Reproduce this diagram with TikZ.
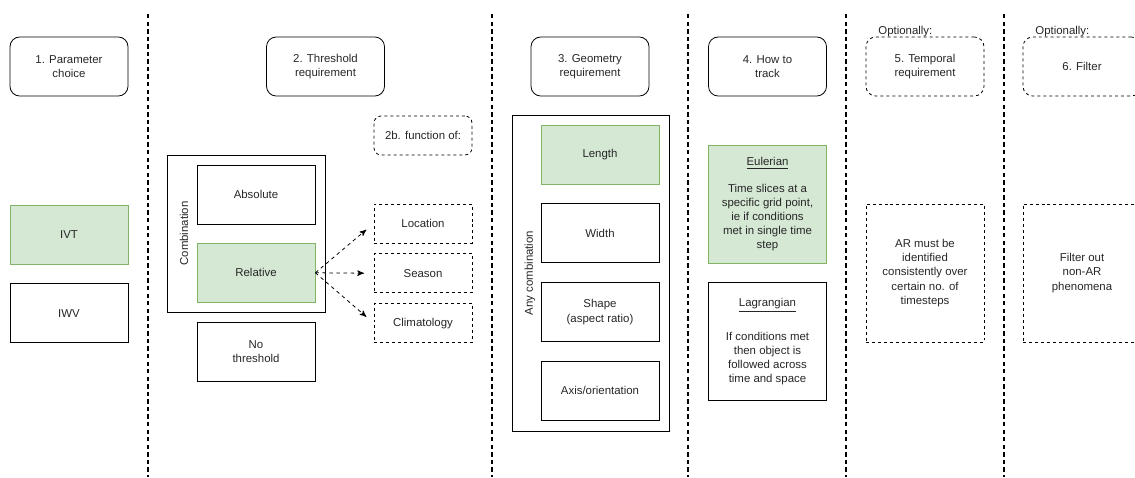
\documentclass[tikz,border=0pt]{standalone}
\usepackage{fontspec}
\setmainfont{Liberation Sans}
\usepackage{xcolor}
\usetikzlibrary{arrows}
\usetikzlibrary{positioning}

\definecolor{pickfill}{HTML}{D5E8D4}
\definecolor{pickline}{HTML}{82B366}

\begin{document}
\begin{tikzpicture}[x=0.02cm,y=-0.02cm,-,>=stealth',line width=0.45pt,text=black!85,
  font=\fontsize{6.5}{8}\selectfont]
  \tikzstyle{head}=[draw, rounded corners=5.5pt, minimum width=2.36cm, minimum height=1.18cm, align=center]
  \tikzstyle{ophead}=[head, dash pattern=on 1.7pt off 1.7pt]
  \tikzstyle{item}=[draw, minimum width=2.36cm, minimum height=1.18cm, align=center]
  \tikzstyle{pick}=[item, fill=pickfill, draw=pickline]
  \tikzstyle{opitem}=[item, minimum height=2.76cm, dash pattern=on 1.7pt off 1.7pt]
  \tikzstyle{fn}=[draw, dash pattern=on 1.7pt off 1.7pt, minimum width=1.96cm, minimum height=0.78cm]
  \tikzstyle{sep}=[line width=1.1pt, dash pattern=on 2.5pt off 1.8pt]
  \useasboundingbox (0,0) rectangle (1135,477);

  \foreach \x in {148,492,688,846,1004}
    \draw[sep] (\x,14) -- (\x,477);

  % 1. parameter
  \node[head] (param) at (69,66.5) {1. Parameter\\choice};
  \node[pick] (ivt) at (69,234.5) {IVT};
  \node[item] (iwv) [below=0.38cm of ivt] {IWV};

  % 2. threshold
  \node[head] (thresh) at (325.5,66.5) {2. Threshold\\requirement};
  \node[item] (absolute) at (256,194.5) {Absolute};
  \node[pick] (relative) [below=0.37cm of absolute] {Relative};
  \node[item] (nothresh) [below=0.38cm of relative] {No\\threshold};
  \draw (167,155) rectangle (325,312);
  \node[rotate=90] (comb) at (184,233.5) {Combination};

  \node[fn, rounded corners=4pt] (function) at (423,135.5) {2b. function of:};
  \node[fn] (location) at (423,223.5) {Location};
  \node[fn] (season) [below=0.2cm of location] {Season};
  \node[fn] (climate) [below=0.2cm of season] {Climatology};
  \path[->, dash pattern=on 2pt off 2pt, shorten >=5.5pt]
    (relative.east) edge (location.west)
    (relative.east) edge (season.west)
    (relative.east) edge (climate.west);

  % 3. geometry
  \node[head] (geom) at (590,66.5) {3. Geometry\\requirement};
  \node[pick] (length) at (600,154.5) {Length};
  \node[item] (width) [below=0.38cm of length] {Width};
  \node[item] (shape) [below=0.38cm of width] {Shape\\(aspect ratio)};
  \node[item] (axis) [below=0.38cm of shape] {Axis/orientation};
  \draw (512,115) rectangle (669,431);
  \node[rotate=90] (anycomb) at (530,273) {Any combination};

  % 4. tracking
  \node[head] (track) at (767.5,66.5) {4. How to\\track};
  \node[pick, minimum height=2.36cm] (euler) at (767.5,204)
    {\underline{Eulerian}\\[7pt]Time slices at a\\specific grid point,\\ie if conditions\\met in single time\\step};
  \node[item, minimum height=2.36cm] (lagrange) [below=0.38cm of euler]
    {\underline{Lagrangian}\\[10.5pt]If conditions met\\then object is\\followed across\\time and space};

  % 5. temporal
  \node[ophead] (temporal) at (925,66.5) {5. Temporal\\requirement};
  \node[anchor=base west, inner sep=0pt] (opt5) at (878,34.5) {Optionally:};
  \node[opitem] (persist) at (925,273)
    {AR must be\\identified\\consistently over\\certain no. of\\timesteps};

  % 6. filter
  \node[ophead] (filterhead) at (1082,66.5) {6. Filter};
  \node[anchor=base west, inner sep=0pt] (opt6) at (1035,34.5) {Optionally:};
  \node[opitem] (filter) at (1082,273) {Filter out\\non-AR\\phenomena};
\end{tikzpicture}
\end{document}
